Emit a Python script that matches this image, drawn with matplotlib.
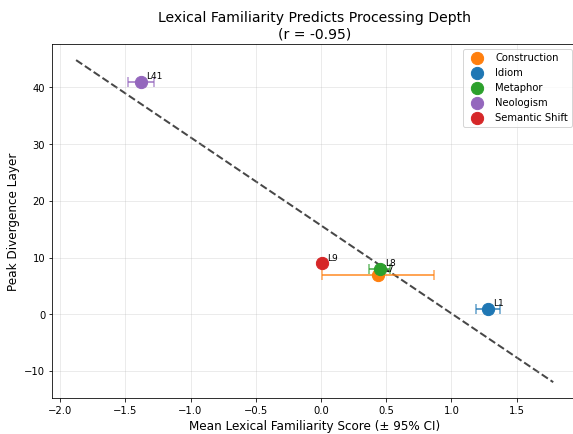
import matplotlib
matplotlib.use("Agg")
import matplotlib.pyplot as plt
import numpy as np

categories = ["Construction", "Idiom", "Metaphor", "Neologism", "Semantic Shift"]
labels = ["L7", "L1", "L8", "L41", "L9"]
familiarity = [0.44, 1.28, 0.45, -1.377, 0.01]
ci = [0.43, 0.09, 0.08, 0.10, 0.02]
peak_layer = [7, 1, 8, 41, 9]
colors = ["#ff7f0e", "#1f77b4", "#2ca02c", "#9467bd", "#d62728"]

DPI = 72
fig = plt.figure(figsize=(573.3 / DPI, 434.3 / DPI), dpi=DPI)
ax = fig.add_axes([0.0911, 0.0823, 0.9155, 0.8157])

for cat, lab, x, e, y, c in zip(categories, labels, familiarity, ci, peak_layer, colors):
    ax.errorbar(x, y, xerr=e, fmt="none", ecolor=c, capsize=5, elinewidth=2, capthick=1.5,
                alpha=0.7, zorder=2)
    ax.scatter(x, y, s=150, color=c, label=cat, zorder=3)
    ax.annotate(lab, (x, y), xytext=(5, 3), textcoords="offset points", fontsize=9)

xs = np.array(familiarity)
ys = np.array(peak_layer)
slope, intercept = np.polyfit(xs, ys, 1)
xl = np.linspace(xs.min() - 0.5, xs.max() + 0.5, 100)
ax.plot(xl, slope * xl + intercept, "--", color="#333333", alpha=0.9, linewidth=2, zorder=1)

r = np.corrcoef(xs, ys)[0, 1]
ax.set_title(f"Lexical Familiarity Predicts Processing Depth\n(r = {r:.2f})", fontsize=14)
ax.set_xlabel("Mean Lexical Familiarity Score (± 95% CI)", fontsize=12)
ax.set_ylabel("Peak Divergence Layer", fontsize=12)
ax.tick_params(labelsize=10)
ax.grid(True, alpha=0.3)
ax.legend(loc="upper right", fontsize=10)

fig.savefig("out.png", dpi=DPI)
